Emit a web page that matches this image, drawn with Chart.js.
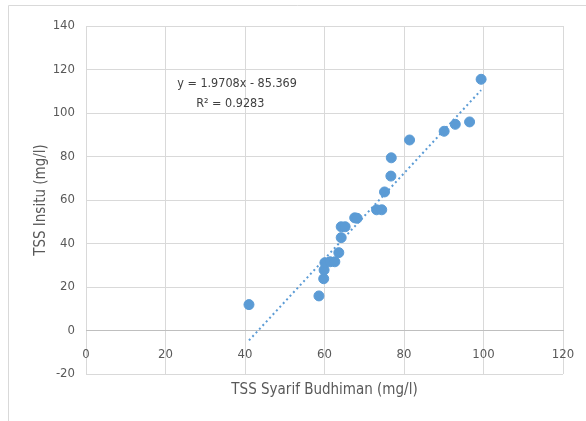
<!DOCTYPE html>
<html>
<head>
<meta charset="utf-8">
<script src="https://cdn.jsdelivr.net/npm/chart.js@4.4.1/dist/chart.umd.min.js"></script>
<style>
  html, body { margin: 0; padding: 0; background: #ffffff; }
  #wrap { position: relative; width: 586px; height: 421px; }
</style>
</head>
<body>
<div id="wrap"><canvas id="c" width="586" height="421"></canvas></div>
<script>
// Data
const tssBudhiman = [41.0, 58.6, 59.8, 59.9, 60.1, 61.4, 62.6, 63.6, 64.2, 64.2, 65.2, 67.6, 68.2, 73.1, 74.4, 75.1, 76.7, 76.8, 81.4, 90.1, 92.9, 96.5, 99.4];
const tssInsitu   = [11.9, 15.9, 23.8, 27.8, 31.2, 31.6, 31.6, 35.8, 42.7, 47.7, 47.7, 51.8, 51.6, 55.5, 55.5, 63.7, 71.0, 79.4, 87.6, 91.6, 94.8, 95.9, 115.5];
const trendSlope = 1.9708;
const trendIntercept = -85.369;
const equationText = "y = 1.9708x - 85.369";
const r2Text = "R\u00B2 = 0.9283";
const xTicks = [0, 20, 40, 60, 80, 100, 120];
const yTicks = [-20, 0, 20, 40, 60, 80, 100, 120, 140];
const xTitle = "TSS Syarif Budhiman (mg/l)";
const yTitle = "TSS Insitu (mg/l)";

const FONT = "'Liberation Sans Narrow', 'DejaVu Sans Condensed', 'Arial Narrow', sans-serif";
const BLUE = '#5B9BD5';
const GRID = '#D9D9D9';
const TEXT = '#595959';

const points = tssBudhiman.map((x, i) => ({ x: x, y: tssInsitu[i] }));
const xMin = Math.min(...tssBudhiman), xMax = Math.max(...tssBudhiman);
const trend = [xMin, xMax].map(x => ({ x: x, y: trendSlope * x + trendIntercept }));

const framePlugin = {
  id: 'frame',
  beforeDraw(chart) {
    const ctx = chart.ctx;
    ctx.save();
    ctx.strokeStyle = GRID;
    ctx.lineWidth = 1;
    ctx.beginPath();
    ctx.moveTo(8.5, 421);
    ctx.lineTo(8.5, 5.5);
    ctx.lineTo(586, 5.5);
    ctx.stroke();
    ctx.restore();
  }
};

const equationPlugin = {
  id: 'equation',
  afterDatasetsDraw(chart) {
    const ctx = chart.ctx;
    const xs = chart.scales.x, ys = chart.scales.y;
    ctx.save();
    ctx.fillStyle = '#404040';
    ctx.font = "12.5px " + FONT;
    ctx.textAlign = 'center';
    ctx.textBaseline = 'middle';
    ctx.fillText(equationText, xs.getPixelForValue(38.0), ys.getPixelForValue(113.4));
    ctx.fillText(r2Text, xs.getPixelForValue(36.3), ys.getPixelForValue(104.2));
    ctx.restore();
  }
};

new Chart(document.getElementById('c'), {
  type: 'scatter',
  data: {
    datasets: [
      {
        type: 'line',
        data: trend,
        borderColor: BLUE,
        borderWidth: 2,
        borderDash: [2, 3],
        borderCapStyle: 'butt',
        pointRadius: 0,
        fill: false,
        order: 0
      },
      {
        data: points,
        backgroundColor: BLUE,
        borderColor: BLUE,
        pointRadius: 5,
        pointHoverRadius: 5,
        order: 1
      }
    ]
  },
  options: {
    responsive: false,
    devicePixelRatio: 1,
    animation: false,
    events: [],
    layout: { padding: { left: 0, top: 26, right: 23, bottom: 47 } },
    plugins: { legend: { display: false }, tooltip: { enabled: false } },
    scales: {
      x: {
        type: 'linear',
        position: { y: 0 },
        min: 0, max: 120,
        afterBuildTicks(s) { s.ticks = xTicks.map(v => ({ value: v })); },
        afterFit(s) { s.paddingLeft = 0; s.paddingRight = 0; },
        grid: { color: GRID, lineWidth: 1, drawTicks: false },
        border: { display: true, color: '#BFBFBF', width: 1 },
        ticks: { color: TEXT, font: { family: FONT, size: 13 }, padding: 16 },
        title: { display: true, text: xTitle, color: TEXT, font: { family: FONT, size: 15 }, padding: { top: 3 } }
      },
      y: {
        type: 'linear',
        min: -20, max: 140,
        afterBuildTicks(s) { s.ticks = yTicks.map(v => ({ value: v })); },
        afterFit(s) { s.width = 86; s.paddingTop = 0; s.paddingBottom = 0; },
        grid: { color: GRID, lineWidth: 1, drawTicks: false },
        border: { display: false },
        ticks: { color: TEXT, font: { family: FONT, size: 13 }, padding: 11 },
        title: { display: true, text: yTitle, color: TEXT, font: { family: FONT, size: 15 }, padding: { top: 32 } }
      }
    }
  },
  plugins: [framePlugin, equationPlugin]
});
</script>
</body>
</html>
